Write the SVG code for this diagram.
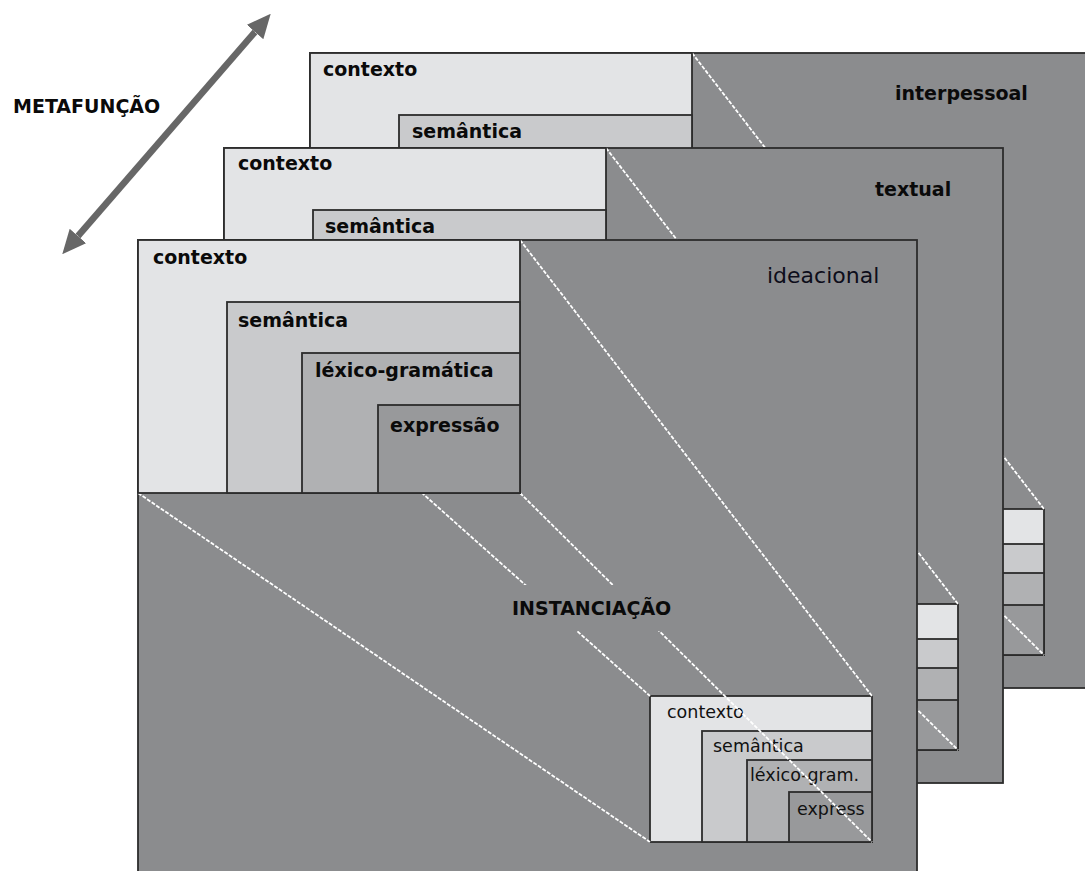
<svg xmlns="http://www.w3.org/2000/svg" width="1085" height="871" viewBox="0 0 1085 871">
<style>
.panel{fill:#8b8c8e;stroke:#2c2c2c;stroke-width:1.8}
.c1{fill:#e3e4e6;stroke:#2c2c2c;stroke-width:1.8}
.c2{fill:#c9cacc;stroke:#2c2c2c;stroke-width:1.8}
.c3{fill:#b0b1b3;stroke:#2c2c2c;stroke-width:1.8}
.c4{fill:#98999b;stroke:#2c2c2c;stroke-width:1.8}
.pl{stroke:#fff;stroke-width:1.8;stroke-dasharray:4 1.5;fill:none}
.lb{font-family:'DejaVu Sans',Verdana,sans-serif;font-weight:bold;font-size:19px;fill:#0a0a0a}
.ls{font-family:'DejaVu Sans',Verdana,sans-serif;font-size:17.5px;fill:#111}
.ln{font-family:'DejaVu Sans',Verdana,sans-serif;font-size:22px;fill:#0d0d1a}
</style>
<defs>
<marker id="ah" markerUnits="userSpaceOnUse" markerWidth="24" markerHeight="22" refX="0" refY="11" orient="auto-start-reverse" viewBox="0 0 24 22">
<path d="M0,0 L24,11 L0,22 z" fill="#676767"/>
</marker>
</defs>

<g id="metafuncao">
<line x1="78" y1="236" x2="255" y2="32" stroke="#676767" stroke-width="6.5" marker-start="url(#ah)" marker-end="url(#ah)"/>
<text class="lb" x="13" y="113">METAFUNÇÃO</text>
</g>

<g id="interpessoal">
<g transform="translate(172,-187)">
<rect class="panel" x="138" y="240" width="779" height="635"/>
<rect class="c1" x="650" y="696" width="222" height="146"/>
<rect class="c2" x="702" y="731" width="170" height="111"/>
<rect class="c3" x="747" y="760" width="125" height="82"/>
<rect class="c4" x="789" y="792" width="83" height="50"/>
<line class="pl" x1="138" y1="240" x2="650" y2="696"/>
<line class="pl" x1="520" y1="240" x2="872" y2="696"/>
<line class="pl" x1="138" y1="493" x2="650" y2="842"/>
<line class="pl" x1="520" y1="493" x2="872" y2="842"/>
<rect class="c1" x="138" y="240" width="382" height="253"/>
<rect class="c2" x="227" y="302" width="293" height="191"/>
</g>
<text class="lb" x="323" y="76">contexto</text>
<text class="lb" x="412" y="138">semântica</text>
<text class="lb" x="895" y="100">interpessoal</text>
</g>

<g id="textual">
<g transform="translate(86,-92)">
<rect class="panel" x="138" y="240" width="779" height="635"/>
<rect class="c1" x="650" y="696" width="222" height="146"/>
<rect class="c2" x="702" y="731" width="170" height="111"/>
<rect class="c3" x="747" y="760" width="125" height="82"/>
<rect class="c4" x="789" y="792" width="83" height="50"/>
<line class="pl" x1="138" y1="240" x2="650" y2="696"/>
<line class="pl" x1="520" y1="240" x2="872" y2="696"/>
<line class="pl" x1="138" y1="493" x2="650" y2="842"/>
<line class="pl" x1="520" y1="493" x2="872" y2="842"/>
<rect class="c1" x="138" y="240" width="382" height="253"/>
<rect class="c2" x="227" y="302" width="293" height="191"/>
</g>
<text class="lb" x="238" y="170">contexto</text>
<text class="lb" x="325" y="233">semântica</text>
<text class="lb" x="875" y="196">textual</text>
</g>

<g id="ideacional">
<rect class="panel" x="138" y="240" width="779" height="635"/>
<g id="instancia">
<rect class="c1" x="650" y="696" width="222" height="146"/>
<rect class="c2" x="702" y="731" width="170" height="111"/>
<rect class="c3" x="747" y="760" width="125" height="82"/>
<rect class="c4" x="789" y="792" width="83" height="50"/>
<text class="ls" x="667" y="718">contexto</text>
<text class="ls" x="713" y="752">semântica</text>
<text class="ls" x="750" y="781">léxico-gram.</text>
<text class="ls" x="797" y="815">express</text>
</g>
<g id="connectors">
<line class="pl" x1="138" y1="240" x2="650" y2="696"/>
<line class="pl" x1="520" y1="240" x2="872" y2="696"/>
<line class="pl" x1="138" y1="493" x2="650" y2="842"/>
<line class="pl" x1="520" y1="493" x2="872" y2="842"/>
</g>
<g id="sistema">
<rect class="c1" x="138" y="240" width="382" height="253"/>
<rect class="c2" x="227" y="302" width="293" height="191"/>
<rect class="c3" x="302" y="353" width="218" height="140"/>
<rect class="c4" x="378" y="405" width="142" height="88"/>
<text class="lb" x="153" y="264">contexto</text>
<text class="lb" x="238" y="327">semântica</text>
<text class="lb" x="315" y="377">léxico-gramática</text>
<text class="lb" x="390" y="432">expressão</text>
</g>
<text class="ln" x="767" y="283">ideacional</text>
<rect x="505" y="585" width="195" height="46" fill="#8b8c8e"/>
<text class="lb" x="512" y="615">INSTANCIAÇÃO</text>
</g>
</svg>
